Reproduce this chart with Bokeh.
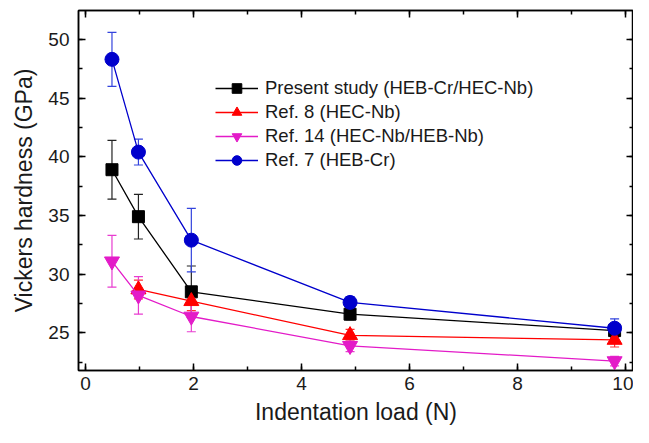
from bokeh.plotting import figure
from bokeh.models import (ColumnDataSource, Whisker, TeeHead, Range1d, LinearAxis,
                          Legend, LegendItem, FixedTicker, CustomJSTickFormatter)
from bokeh.embed import file_html
from bokeh.resources import INLINE

# ---- data ----
loads = [0.49, 0.98, 1.96, 4.9, 9.8]

present_y = [38.9, 34.9, 28.5, 26.6, 25.2]
present_err = [2.5, 1.9, 2.2, 0.5, 0.5]

ref8_x = [0.98, 1.96, 4.9, 9.8]
ref8_y = [28.7, 27.7, 24.8, 24.4]
ref8_err = [0.8, 0.8, 0.5, 0.6]

ref14_y = [31.1, 28.2, 26.4, 23.9, 22.6]
ref14_err = [2.2, 1.6, 1.3, 0.5, 0.4]

ref7_y = [48.3, 40.4, 32.9, 27.6, 25.4]
ref7_err = [2.3, 1.1, 2.7, 0.5, 0.8]

labels = ["Present study (HEB-Cr/HEC-Nb)", "Ref. 8 (HEC-Nb)",
          "Ref. 14 (HEC-Nb/HEB-Nb)", "Ref. 7 (HEB-Cr)"]
x_ticks = [0, 2, 4, 6, 8, 10]
x_minor = [0, 1, 2, 3, 4, 5, 6, 7, 8, 9, 10]
y_ticks = [25, 30, 35, 40, 45, 50]
y_minor = [22.5, 25, 27.5, 30, 32.5, 35, 37.5, 40, 42.5, 45, 47.5, 50, 52.5]

FONT = "Liberation Sans"

p = figure(width=633, height=427, output_backend="svg", toolbar_location=None,
           x_range=Range1d(-0.13, 10.15), y_range=Range1d(21.8, 52.46),
           min_border_left=78, min_border_right=0, min_border_top=10,
           min_border_bottom=55)
p.xgrid.visible = False
p.ygrid.visible = False
p.outline_line_color = "black"
p.outline_line_width = 1.5
p.background_fill_color = "white"
p.border_fill_color = "white"

def style_axis(ax, labels_on=True):
    ax.axis_line_color = "black"
    ax.axis_line_width = 1.5
    ax.major_tick_in = 7
    ax.major_tick_out = 0
    ax.minor_tick_in = 4
    ax.minor_tick_out = 0
    ax.major_tick_line_width = 1.5
    ax.minor_tick_line_width = 1.5
    ax.major_tick_line_color = "black"
    ax.minor_tick_line_color = "black"
    if labels_on:
        ax.major_label_text_font = FONT
        ax.major_label_text_font_size = "19px"
        ax.major_label_text_color = "#1a1a1a"
        ax.axis_label_text_font = FONT
        ax.axis_label_text_font_size = "23px"
        ax.axis_label_text_font_style = "normal"
        ax.axis_label_text_color = "#1a1a1a"
    else:
        ax.formatter = CustomJSTickFormatter(code="return ''")
        ax.major_label_standoff = 0

p.xaxis.ticker = FixedTicker(ticks=x_ticks, minor_ticks=x_minor)
p.yaxis.ticker = FixedTicker(ticks=y_ticks, minor_ticks=y_minor)
p.xaxis.axis_label = "Indentation load (N)"
p.yaxis.axis_label = "Vickers hardness (GPa)"
p.xaxis.major_label_standoff = 6
p.yaxis.major_label_standoff = 9
p.xaxis.axis_label_standoff = 6
p.yaxis.axis_label_standoff = 8
style_axis(p.xaxis[0])
style_axis(p.yaxis[0])

top = LinearAxis(ticker=FixedTicker(ticks=x_ticks, minor_ticks=x_minor))
right = LinearAxis(ticker=FixedTicker(ticks=y_ticks, minor_ticks=y_minor))
style_axis(top, False)
style_axis(right, False)
p.add_layout(top, "above")
p.add_layout(right, "right")

series = [
    (loads, present_y, present_err, "black", "square", 12, "#222222"),
    (ref8_x, ref8_y, ref8_err, "#FF0000", "triangle", 15, "#FF3030"),
    (loads, ref14_y, ref14_err, "#E31BC8", "inverted_triangle", 15, "#E83CD0"),
    (loads, ref7_y, ref7_err, "#0000CC", "circle", 14, "#3344DD"),
]

items = []
for (xs, ys, es, col, mk, sz, ecol), lab in zip(series, labels):
    src = ColumnDataSource(dict(x=xs, y=ys,
                                lo=[a - b for a, b in zip(ys, es)],
                                hi=[a + b for a, b in zip(ys, es)]))
    w = Whisker(base="x", lower="lo", upper="hi", source=src,
                line_color=ecol, line_width=1.2,
                upper_head=TeeHead(size=9, line_color=ecol, line_width=1.2),
                lower_head=TeeHead(size=9, line_color=ecol, line_width=1.2))
    p.add_layout(w)
    r_line = p.line("x", "y", source=src, line_color=col, line_width=1.3)
    r_mark = p.scatter("x", "y", source=src, marker=mk, size=sz,
                       fill_color=col, line_color=col)
    items.append(LegendItem(label=lab, renderers=[r_line, r_mark]))

legend = Legend(items=items, location=(137, 198), padding=0, margin=0,
                spacing=0, label_height=24, glyph_height=24, glyph_width=43,
                label_standoff=7, border_line_color=None,
                background_fill_alpha=0,
                label_text_font=FONT, label_text_font_size="18.5px",
                label_text_color="#1a1a1a")
p.add_layout(legend, "center")

open("out.html", "w").write(file_html(p, INLINE))
